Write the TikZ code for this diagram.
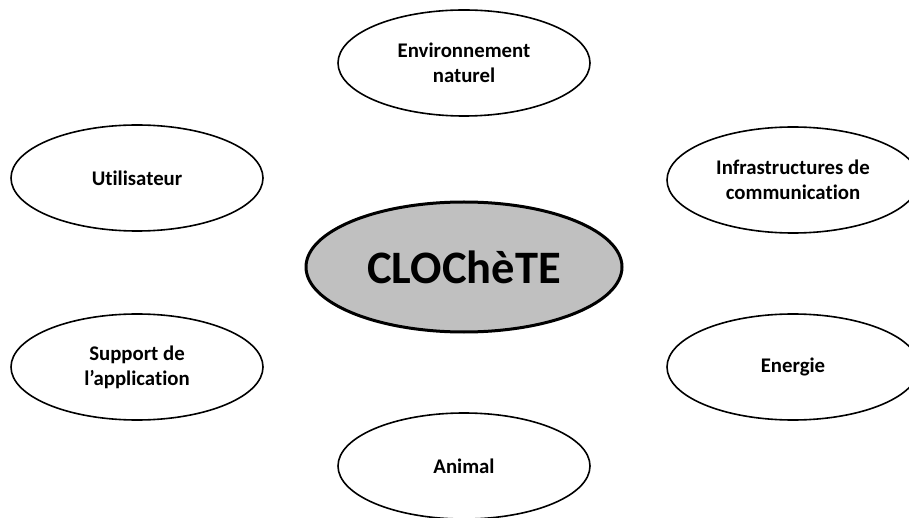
\documentclass[tikz,border=0pt]{standalone}
\usepackage{fontspec}
\setmainfont{Carlito}[Ligatures={NoCommon,NoRequired,NoContextual}]
\usetikzlibrary{shapes.geometric}
\definecolor{coregray}{HTML}{C0C0C0}
\tikzset{
  topic/.style={ellipse, draw=black, line width=1.6pt, fill=white,
    minimum width=252pt, minimum height=106pt, inner sep=0pt,
    align=center, font=\fontsize{20.8}{25}\selectfont\bfseries},
  core/.style={ellipse, draw=black, line width=3pt, fill=coregray,
    minimum width=316pt, minimum height=130pt, inner sep=0pt,
    font=\fontsize{46.5}{52}\selectfont\bfseries}
}
\begin{document}
\begin{tikzpicture}[x=1pt, y=-1pt]
  \useasboundingbox (0,0) rectangle (909,518);
  \begin{scope}
    \clip (0,0) rectangle (909,518);
    \node[core]  (core)    at (464,267) {CLOChèTE};
    \node[topic] (env)     at (464,63)  {Environnement\\naturel};
    \node[topic] (user)    at (137,178) {Utilisateur};
    \node[topic] (infra)   at (793,180) {Infrastructures de\\communication};
    \node[topic] (support) at (137,367) {Support de\\l’application};
    \node[topic] (energy)  at (793,367) {Energie};
    \node[topic] (animal)  at (464,466) {Animal};
  \end{scope}
\end{tikzpicture}
\end{document}
